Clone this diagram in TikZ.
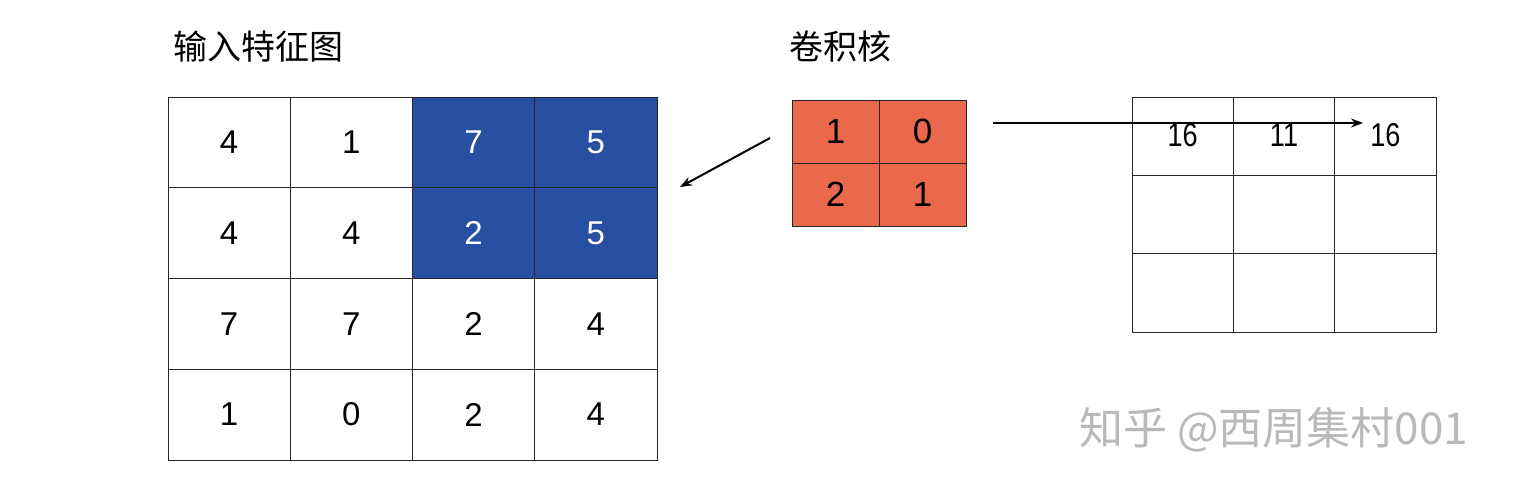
\documentclass[tikz,border=0pt]{standalone}
\usepackage{fontspec}
\setmainfont{Liberation Sans}
\newfontfamily\cjk{Noto Sans CJK SC}
\usetikzlibrary{arrows.meta}
\definecolor{cellblue}{RGB}{40,80,162}
\definecolor{kernelred}{RGB}{234,104,76}
\definecolor{wmgray}{RGB}{185,185,185}
\tikzset{
  incell/.style={draw=black!85, line width=0.9pt, minimum width=122.25pt, minimum height=90.75pt, inner sep=0pt, font=\fontsize{33}{36}\selectfont},
  bluecell/.style={incell, fill=cellblue, text=white},
  kcell/.style={draw=black!85, line width=0.9pt, fill=kernelred, minimum width=87pt, minimum height=63pt, inner sep=0pt, font=\fontsize{35}{38}\selectfont},
  outcell/.style={draw=black!85, line width=0.9pt, minimum width=101.3pt, minimum height=78.3pt, inner sep=0pt},
  outnum/.style={font=\fontsize{33}{35}\selectfont, xscale=0.82, inner sep=0pt},
  title/.style={font=\cjk\fontsize{34}{38}\selectfont, anchor=west, inner sep=0pt},
  arr/.style={line width=2pt, -{Stealth[length=12pt,width=9pt]}}
}
\begin{document}
\begin{tikzpicture}[x=1pt,y=-1pt]
\useasboundingbox[fill=white] (0,0) rectangle (1517,491);
% titles
\node[title] (t1) at (173,47) {输入特征图};
\node[title] (t2) at (789,47) {卷积核};
% input grid
\def\vals{{{4,1,7,5},{4,4,2,5},{7,7,2,4},{1,0,2,4}}}
\foreach \r in {1,...,4}{
  \foreach \c in {1,...,4}{
    \pgfmathtruncatemacro{\v}{\vals[\r-1][\c-1]}
    \pgfmathsetmacro{\cx}{168+122.25*(\c-0.5)}
    \pgfmathsetmacro{\cy}{97+90.75*(\r-0.5)}
    \ifnum\r<3 \ifnum\c>2
      \node[bluecell] (in-\r-\c) at (\cx,\cy) {\v};
    \else
      \node[incell] (in-\r-\c) at (\cx,\cy) {\v};
    \fi
    \else
      \node[incell] (in-\r-\c) at (\cx,\cy) {\v};
    \fi
  }
}
% kernel
\node[kcell] (k-1-1) at (835.5,131.5) {1};
\node[kcell] (k-1-2) at (922.5,131.5) {0};
\node[kcell] (k-2-1) at (835.5,194.5) {2};
\node[kcell] (k-2-2) at (922.5,194.5) {1};
% output grid
\foreach \r in {1,2,3}{
  \foreach \c in {1,2,3}{
    \pgfmathsetmacro{\cx}{1132+101.33*(\c-0.5)}
    \pgfmathsetmacro{\cy}{97+78.33*(\r-0.5)}
    \node[outcell] (out-\r-\c) at (\cx,\cy) {};
  }
}
\node[outnum] (o1) at ([yshift=1pt]out-1-1.center) {16};
\node[outnum] (o2) at ([yshift=1pt]out-1-2.center) {11};
\node[outnum] (o3) at ([yshift=1pt]out-1-3.center) {16};
% arrows
\coordinate (a1s) at (770,138);
\coordinate (a1e) at (680,187);
\coordinate (a2s) at (993,123);
\coordinate (a2e) at (1363,123);
\draw[arr] (a1s) -- (a1e);
\draw[arr] (a2s) -- (a2e);
% watermark
\node[font=\cjk\fontsize{44}{48}\selectfont, text=wmgray, anchor=west, inner sep=0pt] (wm) at (1079,430) {知乎 @西周集村001};
\end{tikzpicture}
\end{document}
